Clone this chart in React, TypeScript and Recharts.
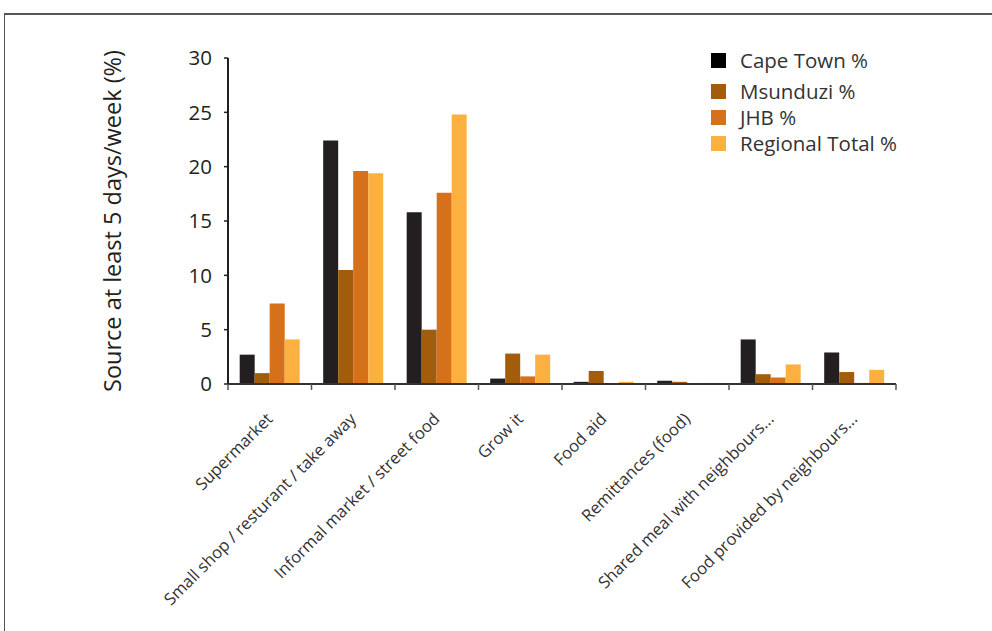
import React from "react";
import { Bar, BarChart, Legend, XAxis, YAxis } from "recharts";

const CATEGORIES = [
  "Supermarket",
  "Small shop / resturant / take away",
  "Informal market / street food",
  "Grow it",
  "Food aid",
  "Remittances (food)",
  "Shared meal with neighbours...",
  "Food provided by neighbours...",
];

const CAPE_TOWN = [2.7, 22.4, 15.8, 0.5, 0.2, 0.3, 4.1, 2.9];
const MSUNDUZI = [1.0, 10.5, 5.0, 2.8, 1.2, 0.2, 0.9, 1.1];
const JHB = [7.4, 19.6, 17.6, 0.7, 0, 0, 0.6, 0.1];
const REGIONAL = [4.1, 19.4, 24.8, 2.7, 0.2, 0.1, 1.8, 1.3];

const Y_TICKS = [0, 5, 10, 15, 20, 25, 30];

const SERIES = [
  { key: "capeTown", name: "Cape Town %", color: "#231f20", swatch: "#000000" },
  { key: "msunduzi", name: "Msunduzi %", color: "#a35c0b", swatch: "#a35c0b" },
  { key: "jhb", name: "JHB %", color: "#d5711a", swatch: "#d5711a" },
  { key: "regional", name: "Regional Total %", color: "#fbb040", swatch: "#fbb040" },
];

const data = CATEGORIES.map((name, i) => ({
  name,
  capeTown: CAPE_TOWN[i],
  msunduzi: MSUNDUZI[i],
  jhb: JHB[i],
  regional: REGIONAL[i],
}));

const FONT = "'Open Sans', 'DejaVu Sans', sans-serif";

const CategoryTick = (props: any) => {
  const { x, y, payload, index } = props;
  const half = payload && payload.offset ? payload.offset : 41.75;
  const tx = x + 4;
  const ty = y + 36;
  return (
    <g>
      <line x1={x - half} y1={y} x2={x - half} y2={y + 6} stroke="#555" strokeWidth={1.5} />
      {index === CATEGORIES.length - 1 && (
        <line x1={x + half} y1={y} x2={x + half} y2={y + 6} stroke="#555" strokeWidth={1.5} />
      )}
      <text
        x={tx}
        y={ty}
        textAnchor="end"
        transform={`rotate(-45 ${tx} ${ty})`}
        fontSize={16.6}
        fill="#333"
        fontFamily={FONT}
      >
        {payload.value}
      </text>
    </g>
  );
};

const renderLegend = () => (
  <div style={{ fontFamily: FONT, fontSize: 20.5, color: "#333" }}>
    {SERIES.map((s, i) => (
      <div
        key={s.key}
        style={{
          display: "flex",
          alignItems: "center",
          height: 26,
          marginBottom: i === 0 ? 5 : 0,
        }}
      >
        <span
          style={{
            display: "inline-block",
            width: 15,
            height: 15,
            background: s.swatch,
            marginRight: 14,
          }}
        />
        <span>{s.name}</span>
      </div>
    ))}
  </div>
);

const YLabel = (props: any) => {
  const vb = props.viewBox || { x: 98, y: 58, width: 130, height: 326 };
  const lx = vb.x + 23;
  const ly = vb.y + vb.height / 2;
  return (
    <text
      x={lx}
      y={ly}
      textAnchor="middle"
      transform={`rotate(-90 ${lx} ${ly})`}
      fontSize={23.5}
      fill="#231f20"
      fontFamily={FONT}
    >
      Source at least 5 days/week (%)
    </text>
  );
};

export default function App() {
  return (
    <div style={{ position: "absolute", left: 0, top: 0, width: 992, height: 631, background: "#fff" }}>
      <div
        style={{
          position: "absolute",
          left: 4,
          top: 13,
          width: 1000,
          height: 630,
          borderTop: "2px solid #555",
          borderLeft: "1.5px solid #555",
        }}
      />
      <BarChart
        width={992}
        height={631}
        data={data}
        margin={{ top: 58, right: 96, left: 98, bottom: 0 }}
        barCategoryGap="14%"
        barGap={0}
      >
        <XAxis
          dataKey="name"
          height={247}
          interval={0}
          tickSize={0}
          tickMargin={0}
          tickLine={false}
          axisLine={{ stroke: "#333", strokeWidth: 2 }}
          tick={<CategoryTick />}
        />
        <YAxis
          width={130}
          domain={[0, 30]}
          ticks={Y_TICKS}
          interval={0}
          tickSize={4}
          tickMargin={12}
          tickLine={{ stroke: "#231f20", strokeWidth: 1.5 }}
          axisLine={{ stroke: "#231f20", strokeWidth: 2 }}
          tick={{ fill: "#231f20", fontSize: 20.5, fontFamily: FONT }}
          label={<YLabel />}
        />
        <Legend
          layout="vertical"
          align="center"
          verticalAlign="middle"
          wrapperStyle={{ left: 711, top: 47, width: 260 }}
          content={renderLegend}
        />
        {SERIES.map((s) => (
          <Bar key={s.key} dataKey={s.key} name={s.name} fill={s.color} isAnimationActive={false} />
        ))}
      </BarChart>
    </div>
  );
}
